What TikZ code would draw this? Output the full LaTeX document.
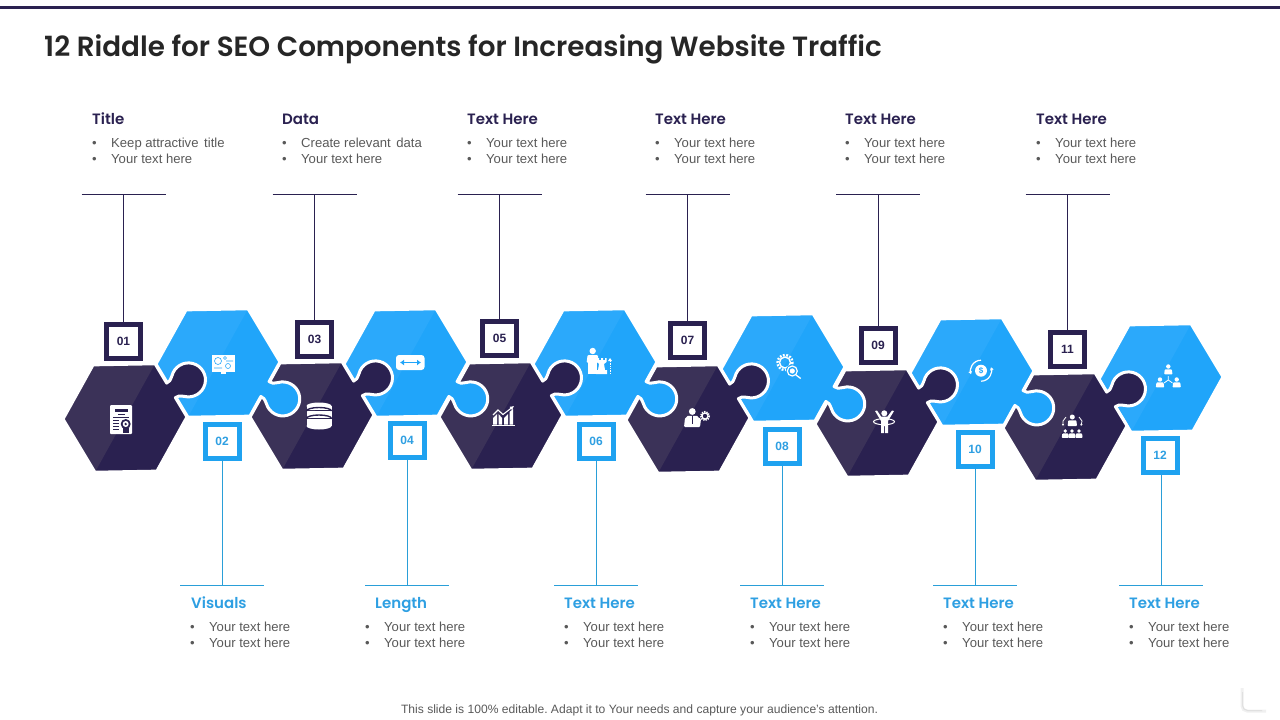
\documentclass[tikz,border=0pt]{standalone}
\usepackage{fontspec}
\setmainfont{Liberation Sans}
\newfontfamily\headfont[BoldFont={Poppins SemiBold}]{Poppins}
\usetikzlibrary{arrows.meta}
\frenchspacing

\definecolor{riddledark}{HTML}{2A2150}
\definecolor{riddledarklight}{HTML}{3B3258}
\definecolor{riddleblue}{HTML}{20A5FA}
\definecolor{riddlebluelight}{HTML}{2BA9FB}
\definecolor{boxblue}{HTML}{1FA2F0}
\definecolor{lineblue}{HTML}{2A9FD8}
\definecolor{headblue}{HTML}{2E9FE2}
\definecolor{bodygrey}{HTML}{595959}

\newcommand{\piecepath}{(53.7,-31) -- (53.7,-8.5) .. controls (57,-8) and (58,-9) .. (62,-12)
  arc[start angle=-135,end angle=135,radius=17] .. controls (58,9) and (57,8) .. (53.7,8.5)
  -- (53.7,31) -- (0,62) -- (-53.7,31) -- (-53.7,-31) -- (0,-62) -- cycle}
\newcommand{\lastpiecepath}{(53.7,-31) -- (53.7,31) -- (0,62) -- (-53.7,31) -- (-53.7,-31) -- (0,-62) -- cycle}
\newcommand{\personicon}[3]{
  \fill[white] (#1,#2) circle (#3);
  \fill[white,rounded corners=0.8pt] (#1-1.9*#3,#2+3.6*#3) -- (#1-1.6*#3,#2+1.3*#3) -- (#1+1.6*#3,#2+1.3*#3) -- (#1+1.9*#3,#2+3.6*#3) -- cycle;
}
\newcommand{\twolines}[2]{\makebox[19pt][l]{\textbullet}#1\\\makebox[19pt][l]{\textbullet}#2}

\tikzset{
  darkpiece/.pic={
    \begin{scope}[rotate=31]
      \fill[riddledark] \piecepath;
      \fill[riddledarklight] (-30:62) -- (-90:62) -- (-150:62) -- (150:62) -- cycle;
      \draw[white,line width=3pt,line join=round] \piecepath;
    \end{scope}
  },
  bluepiece/.pic={
    \begin{scope}[rotate=-29]
      \fill[riddleblue] \piecepath;
      \fill[riddlebluelight] (-90:62) -- (-150:62) -- (150:62) -- (90:62) -- cycle;
      \draw[white,line width=3pt,line join=round] \piecepath;
    \end{scope}
  },
  blueend/.pic={
    \begin{scope}[rotate=-29]
      \fill[riddleblue] \lastpiecepath;
      \fill[riddlebluelight] (-90:62) -- (-150:62) -- (150:62) -- (90:62) -- cycle;
      \draw[white,line width=3pt,line join=round] \lastpiecepath;
    \end{scope}
  },
  darkbox/.style={draw=riddledark,line width=5pt,fill=white,minimum size=34pt,inner sep=0pt,text=riddledark,font=\fontsize{12}{14}\selectfont\bfseries},
  bluebox/.style={draw=boxblue,line width=5pt,fill=white,minimum size=34pt,inner sep=0pt,text=headblue,font=\fontsize{12}{14}\selectfont\bfseries},
  darkline/.style={draw=riddledark,line width=1pt},
  blueline/.style={draw=lineblue,line width=1pt},
  darkhead/.style={anchor=base west,inner sep=0pt,text=riddledark,font=\headfont\fontsize{15}{18}\selectfont\bfseries},
  bluehead/.style={anchor=base west,inner sep=0pt,text=headblue,font=\headfont\fontsize{15}{18}\selectfont\bfseries},
  listtext/.style={anchor=west,inner sep=0pt,align=left,text=bodygrey,font=\fontsize{13.1}{16}\selectfont}
}

\begin{document}
\begin{tikzpicture}[x=1pt,y=-1pt]
\useasboundingbox (0,0) rectangle (1280,720);
\fill[riddledark] (0,6) rectangle (1280,8.6);
\node[anchor=base west,inner sep=0pt,text=black!85,font=\headfont\fontsize{27.8}{32}\selectfont\bfseries] (title) at (44,56) {12 Riddle for SEO Components for Increasing Website Traffic};

% puzzle pieces, last one first so that each knob lies on the next piece
\pic at (1161,378) {blueend};
\pic at (1065,427) {darkpiece};
\pic at (972,372) {bluepiece};
\pic at (877,423) {darkpiece};
\pic at (783,368) {bluepiece};
\pic at (688,419) {darkpiece};
\pic at (595,363) {bluepiece};
\pic at (501,416) {darkpiece};
\pic at (406,363) {bluepiece};
\pic at (312,416) {darkpiece};
\pic at (218,363) {bluepiece};
\pic at (125,418) {darkpiece};

% number boxes
\node[darkbox] (n01) at (123.5,341.5) {01};
\node[bluebox] (n02) at (222,441) {02};
\node[darkbox] (n03) at (314.5,339.5) {03};
\node[bluebox] (n04) at (407,440) {04};
\node[darkbox] (n05) at (499.5,338.5) {05};
\node[bluebox] (n06) at (596,441) {06};
\node[darkbox] (n07) at (687.5,340.5) {07};
\node[bluebox] (n08) at (782,446) {08};
\node[darkbox] (n09) at (878,345.5) {09};
\node[bluebox] (n10) at (975,449) {10};
\node[darkbox] (n11) at (1067.5,349.5) {11};
\node[bluebox] (n12) at (1160,455) {12};

% bars over and under the boxes
\coordinate (b01) at (123.5,194.5);
\coordinate (b02) at (222,585.5);
\coordinate (b03) at (314.5,194.5);
\coordinate (b04) at (407,585.5);
\coordinate (b05) at (499.5,194.5);
\coordinate (b06) at (596,585.5);
\coordinate (b07) at (687.5,194.5);
\coordinate (b08) at (782,585.5);
\coordinate (b09) at (878,194.5);
\coordinate (b10) at (975,585.5);
\coordinate (b11) at (1067.5,194.5);
\coordinate (b12) at (1161,585.5);
\draw[darkline] (n01)--(b01) ([xshift=-42pt]b01)--([xshift=42pt]b01);
\draw[blueline] (n02)--(b02) ([xshift=-42pt]b02)--([xshift=42pt]b02);
\draw[darkline] (n03)--(b03) ([xshift=-42pt]b03)--([xshift=42pt]b03);
\draw[blueline] (n04)--(b04) ([xshift=-42pt]b04)--([xshift=42pt]b04);
\draw[darkline] (n05)--(b05) ([xshift=-42pt]b05)--([xshift=42pt]b05);
\draw[blueline] (n06)--(b06) ([xshift=-42pt]b06)--([xshift=42pt]b06);
\draw[darkline] (n07)--(b07) ([xshift=-42pt]b07)--([xshift=42pt]b07);
\draw[blueline] (n08)--(b08) ([xshift=-42pt]b08)--([xshift=42pt]b08);
\draw[darkline] (n09)--(b09) ([xshift=-42pt]b09)--([xshift=42pt]b09);
\draw[blueline] (n10)--(b10) ([xshift=-42pt]b10)--([xshift=42pt]b10);
\draw[darkline] (n11)--(b11) ([xshift=-42pt]b11)--([xshift=42pt]b11);
\draw[blueline] (n12.south -| b12)--(b12) ([xshift=-42pt]b12)--([xshift=42pt]b12);

% texts
\node[darkhead] (h01) at (92,124.5) {Title};
\node[listtext] (l01) at (92,150.5) {\twolines{Keep attractive\hspace{2pt} title}{Your text here}};
\node[darkhead] (h03) at (282,124.5) {Data};
\node[listtext] (l03) at (282,150.5) {\twolines{Create relevant\hspace{2pt} data}{Your text here}};
\node[darkhead] (h05) at (467,124.5) {Text Here};
\node[listtext] (l05) at (467,150.5) {\twolines{Your text here}{Your text here}};
\node[darkhead] (h07) at (655,124.5) {Text Here};
\node[listtext] (l07) at (655,150.5) {\twolines{Your text here}{Your text here}};
\node[darkhead] (h09) at (845,124.5) {Text Here};
\node[listtext] (l09) at (845,150.5) {\twolines{Your text here}{Your text here}};
\node[darkhead] (h11) at (1036,124.5) {Text Here};
\node[listtext] (l11) at (1036,150.5) {\twolines{Your text here}{Your text here}};
\node[bluehead] (h02) at (191,608.5) {Visuals};
\node[listtext] (l02) at (190,634.5) {\twolines{Your text here}{Your text here}};
\node[bluehead] (h04) at (375,608.5) {Length};
\node[listtext] (l04) at (365,634.5) {\twolines{Your text here}{Your text here}};
\node[bluehead] (h06) at (564,608.5) {Text Here};
\node[listtext] (l06) at (564,634.5) {\twolines{Your text here}{Your text here}};
\node[bluehead] (h08) at (750,608.5) {Text Here};
\node[listtext] (l08) at (750,634.5) {\twolines{Your text here}{Your text here}};
\node[bluehead] (h10) at (943,608.5) {Text Here};
\node[listtext] (l10) at (943,634.5) {\twolines{Your text here}{Your text here}};
\node[bluehead] (h12) at (1129,608.5) {Text Here};
\node[listtext] (l12) at (1129,634.5) {\twolines{Your text here}{Your text here}};
\node[inner sep=0pt,text=bodygrey,font=\fontsize{12.1}{14}\selectfont] (foot) at (639.5,710) {This slide is 100\% editable. Adapt it to Your needs and capture your audience's attention.};

% icons
% 01 certificate
\fill[white,rounded corners=1pt] (110,405) rectangle (132,434);
\fill[riddledark] (115,409) rectangle (128,411.5);
\draw[riddledark,line width=0.8pt] (118,414)--(125,414) (113,417)--(129,417) (113,420)--(119,420) (113,423)--(119,423) (113,426)--(119,426) (113,429)--(119,429);
\fill[riddledark] (125.7,424) circle (5);
\fill[white] (125.7,424) circle (3);
\fill[riddledark] (125.7,424) circle (1.3);
\fill[riddledark] (122.5,428) rectangle (129,433);
% 02 monitor
\fill[white] (212,355) rectangle (235,372);
\fill[white] (221,372) rectangle (226,374);
\draw[riddlebluelight,line width=0.6pt] (218,361) circle (3.5) (225,358) circle (1.5) (228,366) circle (2.5) (214,368)--(222,368) (226,361)--(233,361);
% 03 database
\fill[white] (319,426) ellipse (12.5 and 3.5);
\fill[white] (306.5,419) rectangle (331.5,426);
\fill[white] (306.5,411) rectangle (331.5,418);
\fill[white] (306.5,406) rectangle (331.5,410);
\fill[white] (319,406) ellipse (12.5 and 3.5);
\draw[riddledark,line width=1.4pt] (306.5,411) arc[start angle=180,end angle=0,x radius=12.5,y radius=-3.5];
\draw[riddledark,line width=1.4pt] (306.5,418.5) arc[start angle=180,end angle=0,x radius=12.5,y radius=-3.5];
% 04 double arrow
\fill[white,rounded corners=3pt] (396,355) rectangle (424.5,370);
\draw[riddleblue,line width=1.5pt,{Latex[length=4pt,width=6pt]}-{Latex[length=4pt,width=6pt]}] (400,362.5)--(421,362.5);
% 05 chart
\fill[white] (491.5,424.5) rectangle (515,426);
\fill[white] (493,424.5)--(493,418)--(497,414)--(497,424.5)--cycle;
\fill[white] (498.5,424.5)--(498.5,414)--(502,418)--(502,424.5)--cycle;
\fill[white] (504,424.5)--(504,418)--(508,414)--(508,424.5)--cycle;
\fill[white] (509.5,424.5)--(509.5,412)--(513,409)--(513,424.5)--cycle;
\draw[white,line width=1.1pt,-{Latex[length=4pt,width=4.5pt]}] (493,415)--(498,410)--(503,414.5)--(514,406);
% 06 person and rook
\personicon{592.7}{351}{3.2}
\fill[white] (587.5,356.5) rectangle (597,373.5);
\fill[white] (597,358)--(599,358)--(599,360)--(601,360)--(601,358)--(603,358)--(603,360)--(605,360)--(605,358)--(606.5,358)--(606.5,362)--(604,364)--(605,370)--(607,370)--(607,374)--(596,374)--(596,370)--(598,370)--(599,364)--(597,362)--cycle;
\draw[white,line width=0.7pt,densely dotted] (610,361)--(610,373);
\fill[white] (610,358)--(612,361)--(608,361)--cycle;
% 07 man and gear
\personicon{692.3}{411.5}{3.4}
\fill[white,rounded corners=1pt] (684,427)--(685,418)--(689,416)--(696,416)--(701,419)--(700,427)--cycle;
\draw[riddledark,line width=0.7pt] (692.3,416)--(692.3,424);
\draw[white,line width=1.8pt,dash pattern=on 1.3pt off 1pt] (705,416) circle (4.2);
\draw[white,line width=1.2pt] (705,416) circle (3);
% 08 gear and magnifier
\draw[white,line width=2.4pt,dash pattern=on 1.8pt off 1.5pt] (785,362.5) circle (7.5);
\draw[white,line width=1.4pt] (785,362.5) circle (5.5);
\fill[riddleblue] (792.3,371) circle (6.5);
\draw[white,line width=1.2pt] (792.3,371) circle (5);
\fill[white] (792.3,371) circle (2.6);
\draw[white,line width=1.3pt] (796,375)--(800.7,378.5);
% 09 person with hoop
\fill[white] (884.3,413.3) circle (3);
\fill[white] (875,411)--(877,410.5)--(881,416.5)--(887.5,416.5)--(892,410.5)--(894,411)--(888,421)--(888,433)--(885,433)--(885,426)--(884,426)--(884,433)--(881,433)--(881,421)--cycle;
\draw[white,line width=1pt] (884,421.7) ellipse (10.5 and 3);
% 10 dollar cycle
\fill[white] (981,370.7) circle (6);
\node[inner sep=0pt,text=riddleblue,font=\fontsize{8}{8}\selectfont\bfseries] (dollar) at (981,370.7) {\$};
\draw[white,line width=1.2pt,-{Latex[length=3pt,width=4pt]}] (981,360.2) arc[start angle=-90,end angle=-200,radius=10.5];
\draw[white,line width=1.2pt,-{Latex[length=3pt,width=4pt]}] (981,381.2) arc[start angle=90,end angle=-20,radius=10.5];
% 11 team
\personicon{1072.3}{417}{2.5}
\personicon{1065.3}{431}{1.9}
\personicon{1072}{431}{1.9}
\personicon{1079}{431}{1.9}
\draw[white,line width=0.8pt,-{Latex[length=2pt,width=2.5pt]}] (1066,417)--(1063,421)--(1063,426);
\draw[white,line width=0.8pt,-{Latex[length=2pt,width=2.5pt]}] (1079,417)--(1082,421)--(1081,426);
% 12 org chart
\personicon{1168.3}{366.5}{2.2}
\personicon{1160}{379.5}{2.2}
\personicon{1176.7}{379.5}{2.2}
\draw[white,line width=0.8pt] (1168.3,376)--(1168.3,380) (1168.3,380)--(1164,383) (1168.3,380)--(1172.5,383);

% corner mark
\draw[black!6,line width=3pt,rounded corners=5pt] (1242,688)--(1242,711)--(1266,711);
\draw[black!12,line width=1pt,rounded corners=5pt] (1242.5,692)--(1242.5,710.5)--(1262,710.5);
\end{tikzpicture}
\end{document}
